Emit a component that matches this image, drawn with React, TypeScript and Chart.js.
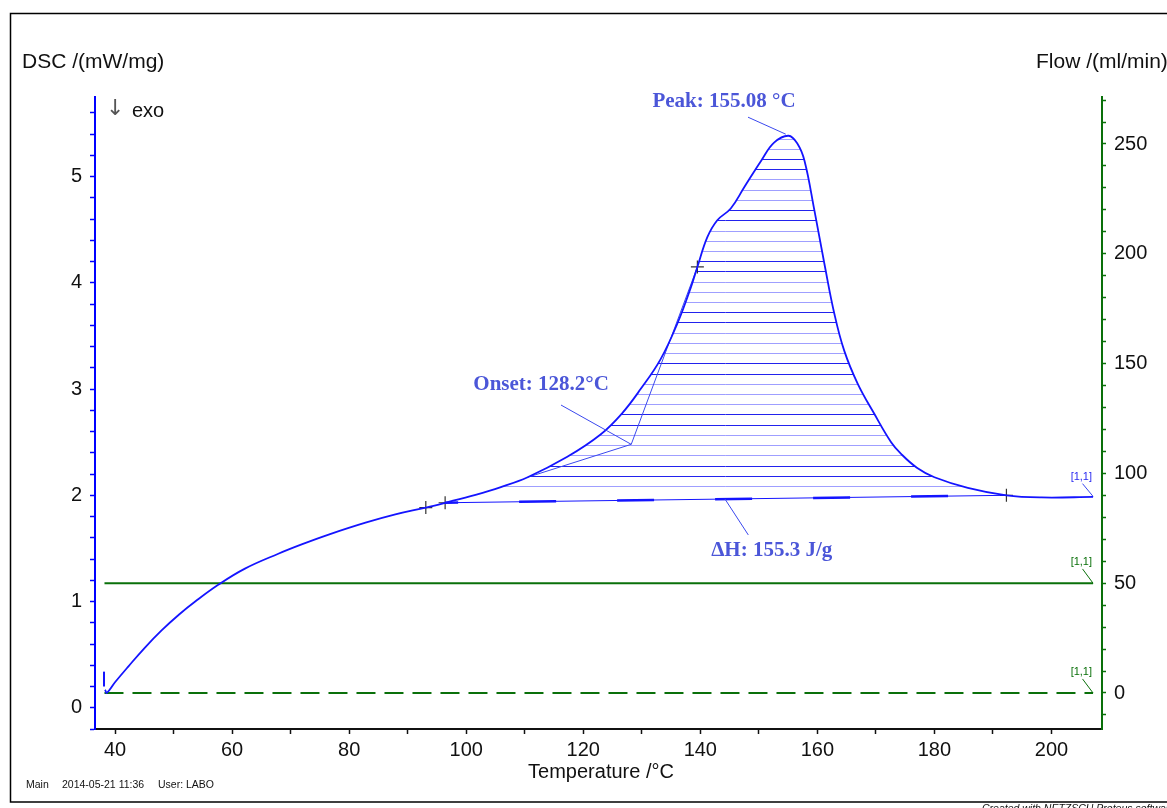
import React, { useEffect, useRef } from 'react';
import { Chart, registerables } from 'chart.js';

Chart.register(...registerables);

// ---------- data ----------
const dscTemp = [
  38.3, 38.6, 40.0, 42.3, 45.0, 48.0, 51.0, 53.7, 57.7, 62.2, 67.9, 72.0, 76.5, 82.8, 87.9, 93.1,
  96.4, 101.6, 105.8, 110.5, 117.2, 122.9, 126.6, 129.8, 133.2, 136.1, 138.4, 139.5, 141.2, 142.9,
  145.2, 147.5, 150.4, 152.6, 155.08, 156.6, 157.8, 159.5, 161.2, 162.9, 164.6, 166.9, 169.7, 172.6,
  174.3, 177.0, 180.0, 185.7, 192.3, 198.3, 207.1,
];
const dscValue = [
  0.17, 0.14, 0.24, 0.39, 0.56, 0.73, 0.88, 1.0, 1.16, 1.31, 1.45, 1.54, 1.63, 1.742, 1.82, 1.885,
  1.93, 2.005, 2.075, 2.17, 2.36, 2.57, 2.77, 3.0, 3.28, 3.62, 3.96, 4.15, 4.43, 4.59,
  4.7, 4.9, 5.15, 5.32, 5.385, 5.31, 5.15, 4.68, 4.18, 3.71, 3.36, 3.05, 2.77, 2.5,
  2.39, 2.26, 2.17, 2.07, 2.0, 1.98, 1.985,
];
const baselineTemp = [96.4, 192.3];
const baselineValue = [1.93, 2.0];
const flowTemp = [38.2, 207.1];
const purgeFlow = [50, 50];
const protectiveFlow = [0, 0];
const markerTemp = [93.1, 96.4, 139.5, 192.3];
const markerValue = [1.885, 1.93, 4.15, 2.0];
const onsetTemp = [110.5, 128.2, 139.5];
const onsetValue = [2.17, 2.48, 4.15];
const startMarkTemp = [38.12, 38.12];
const startMarkValue = [0.2, 0.34];

const xTickLabels = [40, 60, 80, 100, 120, 140, 160, 180, 200];
const dscTickLabels = [0, 1, 2, 3, 4, 5];
const flowTickLabels = [0, 50, 100, 150, 200, 250];

const peakLabel = 'Peak: 155.08 °C';
const onsetLabel = 'Onset: 128.2°C';
const enthalpyLabel = 'ΔH: 155.3 J/g';

// ---------- helpers ----------
const stepRange = (from: number, to: number, step: number) => {
  const out: number[] = [];
  const n = Math.round((to - from) / step);
  for (let i = 0; i <= n; i++) out.push(Math.round((from + i * step) * 1000) / 1000);
  return out;
};
const xMinor = stepRange(40, 200, 10);
const dscMinor = stepRange(-0.2, 5.6, 0.2);
const flowMinor = stepRange(-10, 270, 10);
const isLabel = (list: number[], v: number) => list.some((l) => Math.abs(l - v) < 1e-6);
const pts = (xs: number[], ys: number[]) => xs.map((x, i) => ({ x, y: ys[i] }));

const BLUE = '#1414ff';
const GREEN = '#0a700a';
const ANN = '#4b56d8';
const SANS = "'Liberation Sans', Arial, sans-serif";
const SERIF = "'Liberation Serif', 'Times New Roman', serif";

// hatch levels (data units of DSC axis)
const hatchStart = 2.088;
const hatchStep = 0.0962;

const hatchPlugin = {
  id: 'hatch',
  beforeDatasetsDraw(chart: any) {
    const meta = chart.getDatasetMeta(0);
    const line = meta.dataset;
    if (line && typeof line.updateControlPoints === 'function') {
      line.updateControlPoints(chart.chartArea, 'x');
    }
    const p = meta.data;
    const i0 = dscTemp.indexOf(baselineTemp[0]);
    const i1 = dscTemp.indexOf(baselineTemp[1]);
    const xs = chart.scales.x;
    const ys = chart.scales.y;
    const ctx = chart.ctx;
    ctx.save();
    ctx.beginPath();
    ctx.moveTo(p[i0].x, p[i0].y);
    for (let i = i0 + 1; i <= i1; i++) {
      const a = p[i - 1];
      const b = p[i];
      if (a.cp2x !== undefined && b.cp1x !== undefined) {
        ctx.bezierCurveTo(a.cp2x, a.cp2y, b.cp1x, b.cp1y, b.x, b.y);
      } else ctx.lineTo(b.x, b.y);
    }
    ctx.lineTo(xs.getPixelForValue(baselineTemp[1]), ys.getPixelForValue(baselineValue[1]));
    ctx.lineTo(xs.getPixelForValue(baselineTemp[0]), ys.getPixelForValue(baselineValue[0]));
    ctx.closePath();
    ctx.clip();
    ctx.lineWidth = 1;
    const maxV = Math.max(...dscValue);
    for (let k = 0; ; k++) {
      const v = hatchStart + k * hatchStep;
      if (v > maxV) break;
      const y = Math.round(ys.getPixelForValue(v)) + 0.5;
      const dark = k % 5 === 1 || k % 5 === 2;
      ctx.strokeStyle = dark ? 'rgba(10,10,235,0.9)' : 'rgba(80,80,255,0.55)';
      ctx.beginPath();
      ctx.moveTo(chart.chartArea.left, y);
      ctx.lineTo(chart.chartArea.right, y);
      ctx.stroke();
    }
    ctx.restore();
  },
};

const annotationPlugin = {
  id: 'annot',
  afterDatasetsDraw(chart: any) {
    const ctx = chart.ctx;
    const xs = chart.scales.x;
    const ys = chart.scales.y;
    const y2 = chart.scales.y2;
    const X = (v: number) => xs.getPixelForValue(v);
    const Y = (v: number) => ys.getPixelForValue(v);
    const Y2 = (v: number) => y2.getPixelForValue(v);
    const seg = (a: number[], b: number[], color: string, w = 1) => {
      ctx.save();
      ctx.strokeStyle = color;
      ctx.lineWidth = w;
      ctx.beginPath();
      ctx.moveTo(a[0], a[1]);
      ctx.lineTo(b[0], b[1]);
      ctx.stroke();
      ctx.restore();
    };
    // leader lines
    seg([X(148.15), Y(5.56)], [X(154.6), Y(5.4)], '#3a48ee');
    seg([X(116.2), Y(2.85)], [X(onsetTemp[1]), Y(onsetValue[1])], '#3a48ee');
    seg([X(144.2), Y(1.966)], [X(148.2), Y(1.627)], '#3a48ee');
    seg([X(205.3), Y(2.11)], [X(207.1), Y(1.99)], '#3a48ee');
    seg([X(205.3), Y2(56.5)], [X(207.1), Y2(50)], GREEN);
    seg([X(205.3), Y2(6.4)], [X(207.1), Y2(0)], GREEN);

    ctx.save();
    ctx.fillStyle = ANN;
    ctx.textAlign = 'center';
    ctx.textBaseline = 'middle';
    ctx.font = `bold 21px ${SERIF}`;
    ctx.fillText(peakLabel, X(144.05), Y(5.71));
    ctx.fillText(onsetLabel, X(112.8), Y(3.04));
    ctx.fillText(enthalpyLabel, X(152.2), Y(1.477));
    ctx.font = `11px ${SANS}`;
    ctx.fillStyle = '#2a2af0';
    ctx.fillText('[1,1]', X(205.1), Y(2.17));
    ctx.fillStyle = GREEN;
    ctx.fillText('[1,1]', X(205.1), Y2(59.7));
    ctx.fillText('[1,1]', X(205.1), Y2(9.6));
    ctx.restore();
  },
  afterDraw(chart: any) {
    const ctx = chart.ctx;
    ctx.save();
    // frame
    ctx.strokeStyle = '#000';
    ctx.lineWidth = 1.5;
    ctx.beginPath();
    ctx.moveTo(1167, 13.5);
    ctx.lineTo(10.5, 13.5);
    ctx.lineTo(10.5, 802);
    ctx.lineTo(1167, 802);
    ctx.stroke();

    ctx.fillStyle = '#111';
    ctx.textBaseline = 'middle';
    ctx.textAlign = 'left';
    ctx.font = `21px ${SANS}`;
    ctx.fillText('DSC /(mW/mg)', 22, 62);
    ctx.fillText('Flow /(ml/min)', 1036, 62);
    ctx.font = `20px ${SANS}`;
    ctx.fillText('exo', 132, 111);
    ctx.fillStyle = '#555';
    ctx.font = `22px 'DejaVu Sans', sans-serif`;
    ctx.fillText('↓', 106, 109);
    ctx.fillStyle = '#111';
    ctx.font = `20px ${SANS}`;
    ctx.textAlign = 'center';
    ctx.fillText('Temperature /°C', 601, 772);

    ctx.textAlign = 'left';
    ctx.font = `10.5px ${SANS}`;
    ctx.fillText('Main', 26, 785);
    ctx.fillText('2014-05-21 11:36', 62, 785);
    ctx.fillText('User: LABO', 158, 785);
    ctx.textBaseline = 'top';
    ctx.font = `italic 10.5px ${SANS}`;
    ctx.fillText('Created with NETZSCH Proteus software', 982, 803.5);
    ctx.restore();
  },
};

export default function App() {
  const ref = useRef<HTMLCanvasElement | null>(null);

  useEffect(() => {
    if (!ref.current) return;
    Chart.defaults.font.family = SANS;
    const chart = new Chart(ref.current, {
      type: 'line',
      data: {
        datasets: [
          {
            label: 'DSC',
            data: pts(dscTemp, dscValue),
            yAxisID: 'y',
            borderColor: BLUE,
            borderWidth: 1.8,
            pointRadius: 0,
            tension: 0.4,
            fill: false,
          },
          {
            label: 'baseline',
            data: pts(baselineTemp, baselineValue),
            yAxisID: 'y',
            borderColor: BLUE,
            borderWidth: 1,
            pointRadius: 0,
          },
          {
            label: 'baseline dashes',
            data: pts(baselineTemp, baselineValue),
            yAxisID: 'y',
            borderColor: BLUE,
            borderWidth: 2.5,
            borderDash: [37, 61],
            borderDashOffset: 24,
            pointRadius: 0,
          },
          {
            label: 'onset construction',
            data: pts(onsetTemp, onsetValue),
            yAxisID: 'y',
            borderColor: '#3a48ee',
            borderWidth: 1,
            pointRadius: 0,
          },
          {
            label: 'segment start',
            data: pts(startMarkTemp, startMarkValue),
            yAxisID: 'y',
            borderColor: BLUE,
            borderWidth: 2,
            pointRadius: 0,
          },
          {
            label: 'Purge flow',
            data: pts(flowTemp, purgeFlow),
            yAxisID: 'y2',
            borderColor: GREEN,
            borderWidth: 2,
            pointRadius: 0,
          },
          {
            label: 'Protective flow',
            data: pts(flowTemp, protectiveFlow),
            yAxisID: 'y2',
            borderColor: GREEN,
            borderWidth: 2,
            borderDash: [19, 9],
            pointRadius: 0,
          },
          {
            label: 'markers',
            data: pts(markerTemp, markerValue),
            yAxisID: 'y',
            showLine: false,
            pointStyle: 'cross',
            pointRadius: 6.5,
            pointBorderWidth: 1.2,
            pointBorderColor: '#333',
            borderColor: '#333',
          },
        ],
      },
      options: {
        responsive: false,
        animation: false,
        devicePixelRatio: 1,
        layout: { padding: { top: 97, left: 0, right: 0, bottom: 0 } },
        plugins: { legend: { display: false }, tooltip: { enabled: false } },
        events: [],
        scales: {
          x: {
            type: 'linear',
            position: 'bottom',
            min: 36.58,
            max: 208.63,
            afterBuildTicks: (s: any) => {
              s.ticks = xMinor.map((v) => ({ value: v }));
            },
            afterFit: (s: any) => {
              s.height = 79;
            },
            ticks: {
              autoSkip: false,
              maxRotation: 0,
              padding: 4,
              color: '#111',
              font: { size: 20 },
              callback: (v: any) => (isLabel(xTickLabels, Number(v)) ? String(Math.round(Number(v))) : ''),
            },
            grid: { drawOnChartArea: false, drawTicks: true, tickLength: 5, color: '#111', tickWidth: 1.5 },
            border: { display: true, color: '#111', width: 2 },
          },
          y: {
            type: 'linear',
            position: 'left',
            min: -0.2,
            max: 5.75,
            afterBuildTicks: (s: any) => {
              s.ticks = dscMinor.map((v) => ({ value: v }));
            },
            afterFit: (s: any) => {
              s.width = 95;
            },
            ticks: {
              autoSkip: false,
              padding: 8,
              color: '#111',
              font: { size: 20 },
              callback: (v: any) => (isLabel(dscTickLabels, Number(v)) ? String(Math.round(Number(v))) : ''),
            },
            grid: { drawOnChartArea: false, drawTicks: true, tickLength: 5, color: '#0000ff', tickWidth: 1.5 },
            border: { display: true, color: '#0000ff', width: 2 },
          },
          y2: {
            type: 'linear',
            position: 'right',
            min: -16.4,
            max: 271.4,
            afterBuildTicks: (s: any) => {
              s.ticks = flowMinor.map((v) => ({ value: v }));
            },
            afterFit: (s: any) => {
              s.width = 65;
            },
            ticks: {
              autoSkip: false,
              padding: 8,
              color: '#111',
              font: { size: 20 },
              callback: (v: any) => (isLabel(flowTickLabels, Number(v)) ? String(Math.round(Number(v))) : ''),
            },
            grid: { drawOnChartArea: false, drawTicks: true, tickLength: 4, color: GREEN, tickWidth: 1.5 },
            border: { display: true, color: GREEN, width: 2 },
          },
        },
      } as any,
      plugins: [hatchPlugin, annotationPlugin],
    } as any);
    return () => chart.destroy();
  }, []);

  return (
    <div style={{ position: 'fixed', left: 0, top: 0, width: 1167, height: 808, background: '#fff' }}>
      <canvas ref={ref} width={1167} height={808} style={{ display: 'block' }} />
    </div>
  );
}
